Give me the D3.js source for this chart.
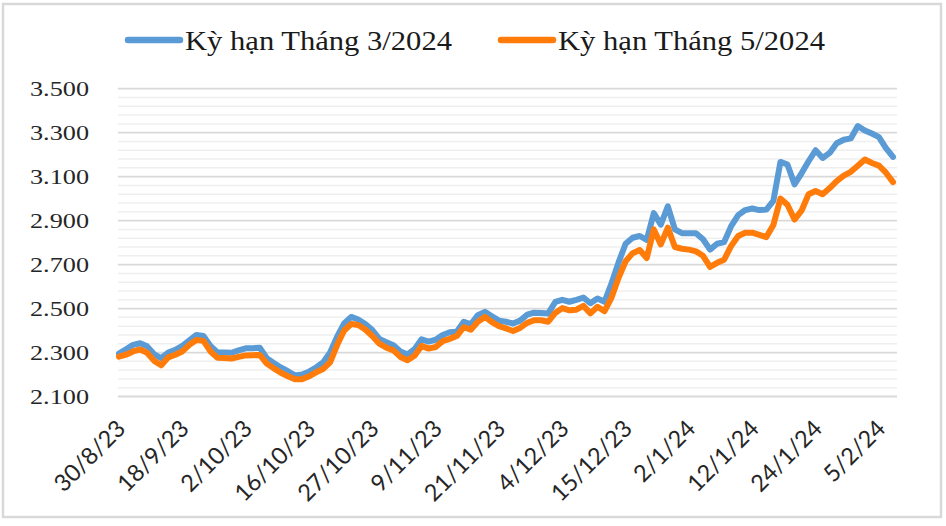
<!DOCTYPE html>
<html><head><meta charset="utf-8">
<script src="https://cdn.jsdelivr.net/npm/d3@7"></script>
<style>body{margin:0;background:#fff}</style>
</head><body>
<svg id="c" width="946" height="526"></svg>
<script>
const seriesNames = ["Kỳ hạn Tháng 3/2024", "Kỳ hạn Tháng 5/2024"];
const seriesColors = ["#5B9BD5", "#FF7B0A"];
const tickLabels = ["30/8/23","18/9/23","2/10/23","16/10/23","27/10/23","9/11/23","21/11/23","4/12/23","15/12/23","2/1/24","12/1/24","24/1/24","5/2/24"];
const labelStep = 9;
const yTicks = [2100,2300,2500,2700,2900,3100,3300,3500];
const mar2024 = [2295,2315,2335,2342,2328,2292,2275,2300,2312,2330,
2355,2380,2375,2330,2300,2300,2299,2310,2319,2320,
2322,2274,2252,2232,2215,2196,2200,2213,2232,2255,
2300,2372,2432,2462,2450,2430,2402,2362,2347,2333,
2305,2291,2315,2360,2350,2358,2380,2392,2395,2440,
2428,2470,2485,2465,2445,2440,2432,2445,2472,2481,
2480,2478,2530,2540,2531,2540,2550,2524,2546,2531,
2615,2710,2795,2822,2830,2812,2934,2882,2965,2860,
2843,2843,2843,2815,2768,2795,2802,2875,2925,2948,
2955,2948,2950,2990,3167,3155,3065,3115,3170,3220,
3185,3208,3252,3268,3274,3330,3310,3296,3280,3230,3190];
const may2024 = [2281,2290,2305,2314,2299,2262,2242,2278,2290,2305,
2335,2357,2353,2305,2276,2275,2273,2280,2287,2288,
2289,2250,2228,2208,2192,2178,2178,2192,2210,2225,
2255,2334,2400,2430,2425,2405,2375,2340,2322,2310,
2280,2265,2285,2330,2318,2325,2352,2362,2375,2415,
2404,2440,2462,2438,2420,2410,2398,2412,2435,2447,
2447,2440,2480,2502,2492,2495,2512,2478,2508,2488,
2550,2640,2715,2752,2766,2730,2860,2792,2868,2780,
2772,2768,2760,2740,2690,2708,2722,2785,2830,2845,
2845,2835,2825,2880,3000,2972,2905,2945,3020,3035,
3020,3048,3080,3105,3122,3150,3178,3162,3150,3118,3075];

const svg = d3.select("#c");
const fmt = v => d3.format(",")(v).replace(",", ".");

// frame
svg.append("rect").attr("x",3).attr("y",4).attr("width",938).attr("height",513)
  .attr("fill","#fff").attr("stroke","#d9d9d9").attr("stroke-width",2.5);

const x = d3.scaleLinear().domain([0, mar2024.length-1]).range([119, 893]);
const y = d3.scaleLinear().domain([2100, 3500]).range([396.5, 88.7]);

// minor grid
const minor = d3.range(2100, 3501, 40).filter(v => (v-2100) % 200 !== 0);
svg.append("g").selectAll("line").data(minor).join("line")
  .attr("x1",118).attr("x2",897).attr("y1",d=>y(d)).attr("y2",d=>y(d))
  .attr("stroke","#efefef").attr("stroke-width",1.5);
// major grid
svg.append("g").selectAll("line").data(yTicks).join("line")
  .attr("x1",118).attr("x2",897).attr("y1",d=>y(d)).attr("y2",d=>y(d))
  .attr("stroke","#d9d9d9").attr("stroke-width",1.8);

// y labels
svg.append("g").selectAll("text").data(yTicks).join("text")
  .attr("x",89).attr("y",d=>y(d)).attr("dy","0.35em").attr("text-anchor","end")
  .attr("font-family","Liberation Serif, serif").attr("font-size",22).attr("fill","#262626")
  .attr("textLength",59).attr("lengthAdjust","spacingAndGlyphs")
  .text(d=>fmt(d));

// x labels
svg.append("g").selectAll("text").data(tickLabels).join("text")
  .attr("transform",(d,i)=>`translate(${x(i*labelStep)+8},430) rotate(-45)`)
  .attr("text-anchor","end")
  .attr("font-family","Lato, sans-serif").attr("font-size",23.5).attr("fill","#262626")
  .text(d=>d);

// lines
const line = d3.line().x((d,i)=>x(i)).y(d=>y(d));
[mar2024, may2024].forEach((s,k)=>{
  svg.append("path").datum(s).attr("d",line).attr("fill","none")
    .attr("stroke",seriesColors[k]).attr("stroke-width",6)
    .attr("stroke-linejoin","round").attr("stroke-linecap","round");
});

// legend
const legX = [128, 501];
seriesNames.forEach((n,k)=>{
  svg.append("line").attr("x1",legX[k]).attr("x2",legX[k]+52).attr("y1",40).attr("y2",40)
    .attr("stroke",seriesColors[k]).attr("stroke-width",6.5).attr("stroke-linecap","round");
  svg.append("text").attr("x",legX[k]+57).attr("y",50)
    .attr("font-family","Liberation Serif, serif").attr("font-size",27).attr("fill","#1a1a1a")
    .attr("textLength",267).attr("lengthAdjust","spacingAndGlyphs")
    .text(n);
});
</script>
</body></html>
